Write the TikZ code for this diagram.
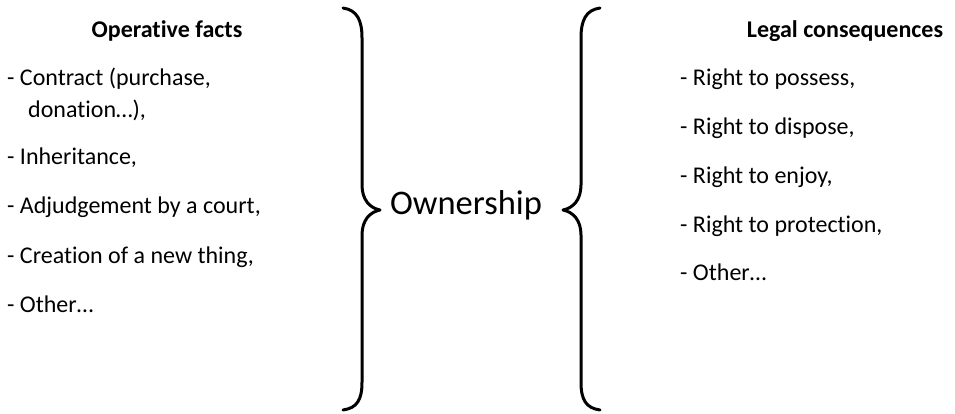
\documentclass[tikz,border=0pt]{standalone}
\usepackage{fontspec}
\setmainfont{Carlito}[Ligatures=NoCommon]
\begin{document}
\begin{tikzpicture}[x=1pt,y=-1pt,
  item/.style={anchor=base west,inner sep=0pt,font=\fontsize{24}{28}\selectfont},
  head/.style={anchor=base,inner sep=0pt,font=\fontsize{24}{28}\selectfont\bfseries},
  brace/.style={line width=3pt,line cap=round,line join=round}]
\useasboundingbox (0,0) rectangle (955,413);
% left column
\node[head] (lh) at (167,37) {Operative facts};
\node[item] (l1) at (7,85) {- Contract (purchase,};
\node[item] (l1b) at (28,117) {donation…),};
\node[item] (l2) at (7,164) {- Inheritance,};
\node[item] (l3) at (7,213) {- Adjudgement by a court,};
\node[item] (l4) at (7,263) {- Creation of a new thing,};
\node[item] (l5) at (7,312) {- Other…};
% right column
\node[head] (rh) at (845,37) {Legal consequences};
\node[item] (r1) at (680,85) {- Right to possess,};
\node[item] (r2) at (680,134) {- Right to dispose,};
\node[item] (r3) at (680,183) {- Right to enjoy,};
\node[item] (r4) at (680,232) {- Right to protection,};
\node[item] (r5) at (680,280) {- Other…};
% centre
\node[anchor=base,inner sep=0pt,font=\fontsize{34.5}{40}\selectfont] (own) at (466,214) {Ownership};
% braces
\draw[brace] (343,8) .. controls (357,10) and (362,20) .. (362,38) -- (362,185)
  .. controls (362,200) and (370,208) .. (380,210)
  .. controls (370,212) and (362,220) .. (362,235) -- (362,382)
  .. controls (362,400) and (357,408) .. (343,410);
\draw[brace] (600,8) .. controls (586,10) and (581,20) .. (581,38) -- (581,185)
  .. controls (581,200) and (573,208) .. (563,210)
  .. controls (573,212) and (581,220) .. (581,235) -- (581,382)
  .. controls (581,400) and (586,408) .. (600,410);
\end{tikzpicture}
\end{document}
